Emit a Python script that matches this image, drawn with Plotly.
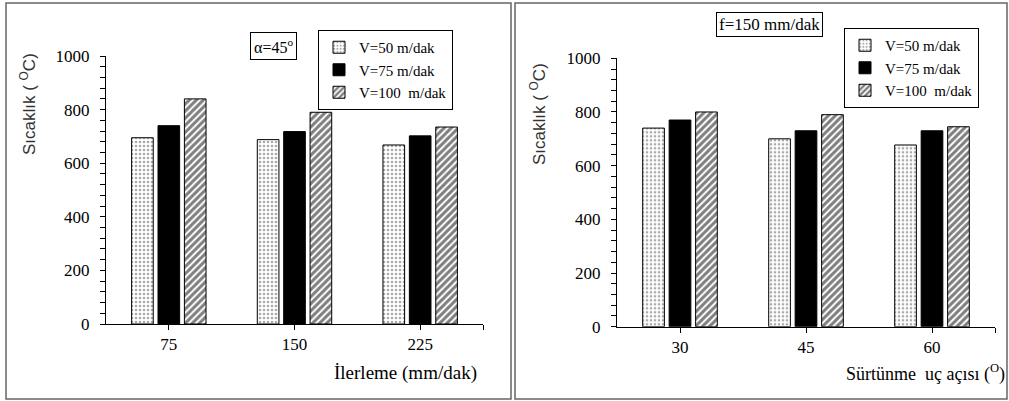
import plotly.graph_objects as go

W, H = 1009, 401

# ---- data ----
feed_labels = ["75", "150", "225"]          # İlerleme (mm/dak)
angle_labels = ["30", "45", "60"]           # Sürtünme uç açısı
series_names = ["V=50 m/dak", "V=75 m/dak", "V=100  m/dak"]

left_v50 = [695, 688, 668]
left_v75 = [740, 718, 702]
left_v100 = [840, 790, 735]

right_v50 = [740, 700, 677]
right_v75 = [770, 730, 730]
right_v100 = [800, 790, 745]

y_ticks = [0, 200, 400, 600, 800, 1000]

SERIF = "Liberation Serif"
SANS = "Liberation Sans"


def px_x(x):
    return x / W


def px_y(y):
    return 1 - y / H


styles = [
    dict(color="white", line=dict(color="black", width=1),
         pattern=dict(shape=".", fgcolor="#555555", bgcolor="white", size=4, solidity=0.35)),
    dict(color="black", line=dict(color="black", width=1)),
    dict(color="white", line=dict(color="black", width=1),
         pattern=dict(shape="/", fgcolor="black", bgcolor="white", size=5, solidity=0.6)),
]

fig = go.Figure()

left_vals = [left_v50, left_v75, left_v100]
right_vals = [right_v50, right_v75, right_v100]
for i, name in enumerate(series_names):
    fig.add_trace(go.Bar(x=[0, 1, 2], y=left_vals[i], name=name, marker=styles[i],
                         xaxis="x", yaxis="y", legend="legend"))
for i, name in enumerate(series_names):
    fig.add_trace(go.Bar(x=[0, 1, 2], y=right_vals[i], name=name, marker=styles[i],
                         xaxis="x2", yaxis="y2", legend="legend2"))

xcommon = dict(range=[-0.5, 2.5], tickvals=[0, 1, 2], showline=True, linecolor="black",
               linewidth=1, ticks="outside", ticklen=5, tickcolor="black",
               tickfont=dict(family=SERIF, size=17, color="black"), showgrid=False,
               zeroline=False, automargin=False,
               minor=dict(tickvals=[2.5], ticks="outside", ticklen=5, tickcolor="black"))
ycommon = dict(range=[0, 1000], tickvals=y_ticks, showline=True, linecolor="black",
               linewidth=1, ticks="outside", ticklen=5, tickcolor="black",
               tickfont=dict(family=SERIF, size=17, color="black"), showgrid=False,
               zeroline=False, automargin=False, ticklabelstandoff=7,
               minor=dict(dtick=40, ticks="outside", ticklen=5, tickcolor="black"))

legend_common = dict(bgcolor="white", bordercolor="black", borderwidth=1,
                     font=dict(family=SERIF, size=15, color="black"),
                     xanchor="left", yanchor="top", itemclick=False, tracegroupgap=0)

fig.update_layout(
    width=W, height=H,
    margin=dict(l=0, r=0, t=0, b=0),
    paper_bgcolor="white", plot_bgcolor="white",
    barmode="group", bargap=0.37, bargroupgap=0.18,
    xaxis=dict(domain=[px_x(106), px_x(483)], anchor="y",
               ticktext=feed_labels, **xcommon),
    yaxis=dict(domain=[px_y(324), px_y(56)], anchor="x", **ycommon),
    xaxis2=dict(domain=[px_x(617), px_x(995)], anchor="y2",
                ticktext=angle_labels, **xcommon),
    yaxis2=dict(domain=[px_y(326.7), px_y(58.3)], anchor="x2", **ycommon),
    legend=dict(x=px_x(318), y=px_y(30), **legend_common),
    legend2=dict(x=px_x(844), y=px_y(28), **legend_common),
    showlegend=True,
)

# panel borders
fig.add_shape(type="rect", xref="paper", yref="paper",
              x0=px_x(6), x1=px_x(511), y0=px_y(399), y1=px_y(3),
              line=dict(color="#666666", width=1.5))
fig.add_shape(type="rect", xref="paper", yref="paper",
              x0=px_x(515), x1=px_x(1007), y0=px_y(399), y1=px_y(3),
              line=dict(color="#666666", width=1.5))


def note(text, x, y, **kw):
    d = dict(text=text, x=px_x(x), y=px_y(y), xref="paper", yref="paper",
             showarrow=False, xanchor="center", yanchor="middle")
    d.update(kw)
    return d


ann = [
    note("α=45<sup>o</sup>", 273, 46.5, font=dict(family=SERIF, size=16, color="black"),
         bordercolor="black", borderwidth=1, borderpad=3, bgcolor="white"),
    note("f=150 mm/dak", 769, 24, font=dict(family=SERIF, size=17, color="black"),
         bordercolor="black", borderwidth=1, borderpad=2, bgcolor="white"),
    note("İlerleme (mm/dak)", 405, 373, font=dict(family=SERIF, size=19, color="black")),
    note("Sürtünme  uç açısı (<sup>O</sup>)", 1007, 373, xanchor="right",
         font=dict(family=SERIF, size=18, color="black")),
    note("Sıcaklık ( <sup>O</sup>C)", 28, 104, textangle=-90,
         font=dict(family=SANS, size=17, color="#333333")),
    note("Sıcaklık ( <sup>O</sup>C)", 538, 114, textangle=-90,
         font=dict(family=SANS, size=17, color="#333333")),
]
fig.update_layout(annotations=ann)

fig.write_html("out.html", config={"displayModeBar": False},
               post_script="document.body.style.margin='0px';document.body.style.overflow='hidden';")
